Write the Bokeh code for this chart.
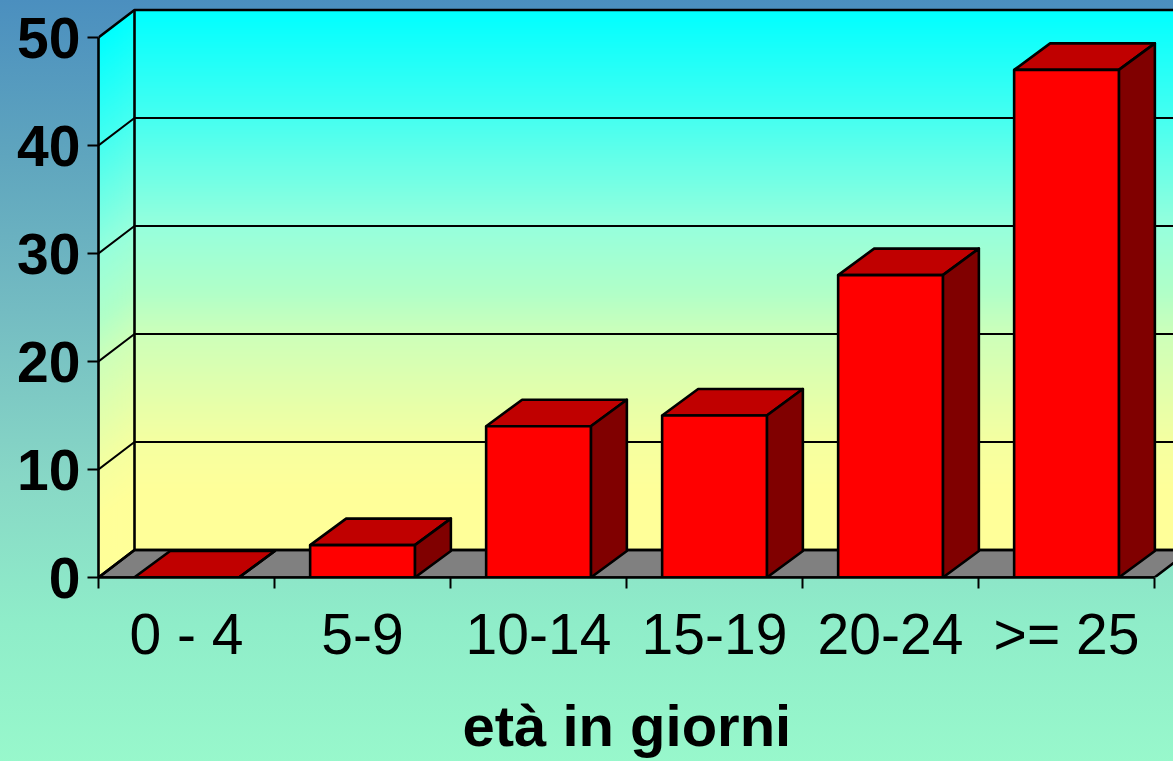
from bokeh.plotting import figure
from bokeh.models import Range1d, FixedTicker, Title
from bokeh.embed import file_html
from bokeh.resources import INLINE
import numpy as np

categories = ["0 - 4", "5-9", "10-14", "15-19", "20-24", ">= 25"]
values = [0, 3, 14, 15, 28, 47]
y_ticks = [0, 10, 20, 30, 40, 50]
x_title = "età in giorni"

FONT = "Liberation Sans"
W, H = 1173, 761
LEFT, BASE = 98, 577
PX_X, PX_Y = 176.0, 10.8          # pixels per category / per y unit
WALL_DX, WALL_DY = 36 / PX_X, 27.5 / PX_Y
BAR_DX, BAR_DY = 36 / PX_X, 26.5 / PX_Y
BAR_W = 0.595
WALL_TOP = 50
n = len(categories)
LW = 2.6

xmax = (W - LEFT) / PX_X
ymax = BASE / PX_Y

p = figure(width=W, height=H, frame_width=W - LEFT, frame_height=BASE,
           output_backend="svg", toolbar_location=None,
           x_range=Range1d(0, xmax), y_range=Range1d(0, ymax),
           min_border_left=LEFT, min_border_right=0, min_border_top=0, min_border_bottom=H - BASE,
           background_fill_color=None, border_fill_color=None, outline_line_color=None,
           styles={"background": "linear-gradient(180deg,#4b8fbf 0%,#5fa5be 20%,#74bcc2 40%,#88d8c6 62%,#8fedc9 80%,#99f9cc 100%)"})
p.grid.visible = False

# wall gradient stops: fraction of wall height, red, blue
stop_t = [0.0, 0.2, 0.4, 0.52, 0.6, 0.8, 0.89, 1.0]
stop_r = [0, 70, 150, 176, 205, 245, 255, 255]
stop_b = [255, 240, 220, 200, 185, 160, 153, 153]


def wall_color(t):
    r = np.interp(t, stop_t, stop_r)
    b = np.interp(t, stop_t, stop_b)
    return "#%02x%02x%02x" % (int(round(r)), 255, int(round(b)))


# walls, painted from the top down
N = 270
levels = np.linspace(0, 1, N, endpoint=False)
back_x0, back_x1 = WALL_DX, n + WALL_DX
b_top, b_bot = WALL_TOP + WALL_DY, WALL_DY
colors = [wall_color(t) for t in levels]
tops = b_top - levels * WALL_TOP
p.quad(left=back_x0, right=back_x1, top=tops, bottom=b_bot, fill_color=colors, line_color=None)
side_xs = [[0, WALL_DX, WALL_DX, 0] for _ in levels]
side_ys = [[WALL_TOP * (1 - t), WALL_TOP * (1 - t) + WALL_DY, WALL_DY, 0] for t in levels]
p.patches(side_xs, side_ys, fill_color=colors, line_color=None)

# floor
p.patch([0, WALL_DX, n + WALL_DX, n], [0, WALL_DY, WALL_DY, 0],
        fill_color="#808080", line_color="black", line_width=LW)

# grid lines on both walls
for v in y_ticks:
    lw = LW if v in (0, WALL_TOP) else 2.0
    p.line([0, WALL_DX, n + WALL_DX], [v, v + WALL_DY, v + WALL_DY], line_color="black", line_width=lw)
p.line([WALL_DX, WALL_DX], [WALL_DY, WALL_TOP + WALL_DY], line_color="black", line_width=LW)

# bars
centers = [i + 0.5 for i in range(n)]
lefts = [c - BAR_W / 2 for c in centers]
rights = [c + BAR_W / 2 for c in centers]
p.patches([[l, l + BAR_DX, r + BAR_DX, r] for l, r in zip(lefts, rights)],
          [[v, v + BAR_DY, v + BAR_DY, v] for v in values],
          fill_color="#c00000", line_color="black", line_width=LW, line_join="round")
p.patches([[r, r + BAR_DX, r + BAR_DX, r] for r in rights],
          [[0, BAR_DY, v + BAR_DY, v] for v in values],
          fill_color="#800000", line_color="black", line_width=LW, line_join="round")
p.vbar(x=centers, width=BAR_W, top=values, bottom=0,
       fill_color="#ff0000", line_color="black", line_width=LW)

# axes
ya = p.yaxis[0]
ya.ticker = FixedTicker(ticks=y_ticks)
ya.bounds = (0, WALL_TOP)
ya.major_tick_in = 0
ya.major_tick_out = 11
ya.minor_tick_line_color = None
ya.major_tick_line_width = 2
ya.axis_line_width = LW
ya.major_label_standoff = 7
ya.major_label_text_font = FONT
ya.major_label_text_font_style = "bold"
ya.major_label_text_font_size = "57px"
ya.major_label_text_color = "black"

xa = p.xaxis[0]
xa.ticker = FixedTicker(ticks=centers, minor_ticks=list(range(n + 1)))
xa.bounds = (0, n)
xa.major_label_overrides = {c: t for c, t in zip(centers, categories)}
xa.major_tick_in = 0
xa.major_tick_out = 0
xa.major_tick_line_color = None
xa.minor_tick_in = 0
xa.minor_tick_out = 11
xa.minor_tick_line_width = 2
xa.minor_tick_line_color = "black"
xa.axis_line_width = LW
xa.major_label_standoff = 13
xa.major_label_text_font = FONT
xa.major_label_text_font_size = "57px"
xa.major_label_text_color = "black"

p.add_layout(Title(text=x_title, align="left", offset=364, standoff=45,
                   text_font=FONT, text_font_style="bold", text_font_size="58px", text_color="black"), "below")

open("out.html", "w").write(file_html(p, INLINE))
